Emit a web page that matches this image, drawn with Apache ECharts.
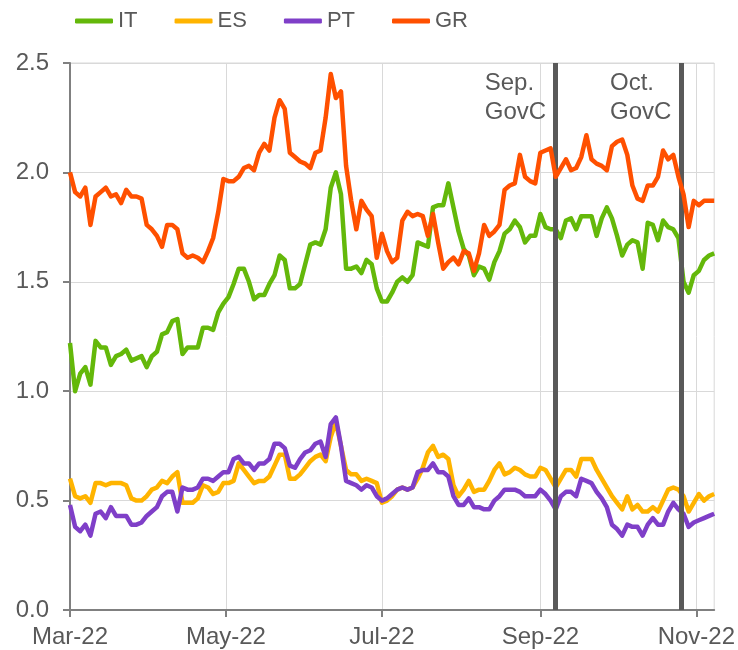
<!DOCTYPE html>
<html>
<head>
<meta charset="utf-8">
<script src="https://cdn.jsdelivr.net/npm/echarts@6/dist/echarts.min.js"></script>
<style>
  html, body { margin: 0; padding: 0; background: #fff; }
  #chart { width: 738px; height: 650px; }
</style>
</head>
<body>
<div id="chart"></div>
<script>
// every second calendar day, 2022
const days = [
  '03-01','03-03','03-05','03-07','03-09','03-11','03-13','03-15','03-17','03-19','03-21','03-23','03-25','03-27','03-29','03-31',
  '04-02','04-04','04-06','04-08','04-10','04-12','04-14','04-16','04-18','04-20','04-22','04-24','04-26','04-28','04-30',
  '05-02','05-04','05-06','05-08','05-10','05-12','05-14','05-16','05-18','05-20','05-22','05-24','05-26','05-28','05-30',
  '06-01','06-03','06-05','06-07','06-09','06-11','06-13','06-15','06-17','06-19','06-21','06-23','06-25','06-27','06-29',
  '07-01','07-03','07-05','07-07','07-09','07-11','07-13','07-15','07-17','07-19','07-21','07-23','07-25','07-27','07-29','07-31',
  '08-02','08-04','08-06','08-08','08-10','08-12','08-14','08-16','08-18','08-20','08-22','08-24','08-26','08-28','08-30',
  '09-01','09-03','09-05','09-07','09-09','09-11','09-13','09-15','09-17','09-19','09-21','09-23','09-25','09-27','09-29',
  '10-01','10-03','10-05','10-07','10-09','10-11','10-13','10-15','10-17','10-19','10-21','10-23','10-25','10-27','10-29','10-31',
  '11-02','11-04','11-06','11-08'
]

const IT = [
  1.22,1.00,1.08,1.11,1.03,1.23,1.20,1.20,1.12,1.16,
  1.17,1.19,1.14,1.15,1.16,1.11,1.16,1.18,1.26,1.27,
  1.32,1.33,1.17,1.20,1.20,1.20,1.29,1.29,1.28,1.36,
  1.40,1.43,1.49,1.56,1.56,1.50,1.42,1.44,1.44,1.49,
  1.53,1.62,1.60,1.47,1.47,1.49,1.58,1.67,1.68,1.67,
  1.74,1.93,2.00,1.90,1.56,1.56,1.57,1.54,1.60,1.58,
  1.47,1.41,1.41,1.45,1.50,1.52,1.50,1.53,1.68,1.67,
  1.66,1.84,1.85,1.85,1.95,1.84,1.73,1.65,1.62,1.53,
  1.57,1.56,1.51,1.59,1.64,1.72,1.74,1.78,1.75,1.68,
  1.71,1.71,1.81,1.75,1.74,1.74,1.70,1.78,1.79,1.74,
  1.80,1.80,1.80,1.71,1.79,1.84,1.79,1.71,1.62,1.67,
  1.69,1.68,1.56,1.77,1.76,1.69,1.78,1.75,1.74,1.70,
  1.50,1.45,1.53,1.55,1.60,1.62,1.63
]
const ES = [
  0.60,0.52,0.51,0.52,0.49,0.58,0.58,0.57,0.58,0.58,
  0.58,0.57,0.51,0.50,0.50,0.52,0.55,0.56,0.59,0.58,
  0.61,0.63,0.49,0.49,0.49,0.51,0.57,0.56,0.53,0.54,
  0.58,0.58,0.59,0.67,0.64,0.61,0.58,0.59,0.59,0.61,
  0.66,0.71,0.71,0.60,0.60,0.62,0.65,0.68,0.70,0.71,
  0.68,0.79,0.86,0.75,0.64,0.62,0.62,0.59,0.60,0.59,
  0.58,0.49,0.50,0.52,0.55,0.56,0.55,0.56,0.60,0.65,
  0.72,0.75,0.70,0.71,0.69,0.57,0.52,0.55,0.59,0.54,
  0.55,0.55,0.59,0.64,0.67,0.62,0.63,0.65,0.64,0.62,
  0.61,0.61,0.65,0.64,0.60,0.56,0.60,0.64,0.64,0.61,
  0.69,0.69,0.69,0.64,0.60,0.56,0.52,0.49,0.46,0.52,
  0.46,0.48,0.45,0.45,0.47,0.45,0.50,0.55,0.56,0.55,
  0.52,0.45,0.49,0.53,0.50,0.52,0.53
]
const PT = [
  0.48,0.38,0.36,0.39,0.34,0.44,0.45,0.42,0.47,0.43,
  0.43,0.43,0.39,0.39,0.40,0.43,0.45,0.47,0.52,0.54,
  0.54,0.45,0.56,0.55,0.55,0.56,0.60,0.60,0.59,0.61,
  0.63,0.63,0.69,0.70,0.67,0.67,0.64,0.67,0.67,0.69,
  0.76,0.76,0.74,0.66,0.65,0.69,0.72,0.73,0.76,0.77,
  0.70,0.85,0.88,0.75,0.59,0.58,0.57,0.55,0.57,0.56,
  0.52,0.50,0.51,0.53,0.55,0.56,0.55,0.56,0.63,0.64,
  0.64,0.67,0.63,0.63,0.61,0.52,0.48,0.48,0.51,0.47,
  0.47,0.46,0.46,0.50,0.52,0.55,0.55,0.55,0.54,0.52,
  0.52,0.52,0.55,0.53,0.50,0.46,0.52,0.54,0.54,0.52,
  0.60,0.59,0.58,0.54,0.51,0.47,0.39,0.37,0.34,0.39,
  0.38,0.38,0.34,0.39,0.42,0.39,0.39,0.45,0.49,0.46,
  0.44,0.38,0.40,0.41,0.42,0.43,0.44
]
const GR = [
  2.00,1.91,1.89,1.93,1.76,1.89,1.91,1.93,1.89,1.90,
  1.86,1.92,1.89,1.89,1.88,1.76,1.74,1.71,1.66,1.76,
  1.76,1.74,1.63,1.61,1.62,1.61,1.59,1.64,1.70,1.82,
  1.97,1.96,1.96,1.98,2.02,2.03,2.01,2.09,2.13,2.10,
  2.25,2.33,2.29,2.09,2.07,2.05,2.04,2.02,2.09,2.10,
  2.25,2.45,2.34,2.37,2.03,1.87,1.74,1.87,1.83,1.80,
  1.61,1.72,1.64,1.59,1.61,1.78,1.82,1.80,1.81,1.80,
  1.71,1.81,1.68,1.56,1.59,1.61,1.58,1.64,1.63,1.55,
  1.63,1.76,1.71,1.73,1.76,1.92,1.94,1.95,2.08,1.98,
  1.96,1.95,2.09,2.10,2.11,1.98,2.02,2.06,2.01,2.02,
  2.07,2.17,2.06,2.04,2.03,2.01,2.12,2.14,2.15,2.08,
  1.94,1.88,1.87,1.94,1.94,1.98,2.10,2.06,2.08,1.98,
  1.90,1.75,1.87,1.85,1.87,1.87,1.87
]

const names = ['IT', 'ES', 'PT', 'GR']
const colors = ['#64b80a', '#ffb400', '#7f3fc8', '#ff5000']
const govc = [['2022-09-07', 'Sep.\nGovC'], ['2022-10-26', 'Oct.\nGovC']]
const tickDays = ['2022-03-01', '2022-05-01', '2022-07-01', '2022-09-01', '2022-11-01']
const monthNames = ['Jan','Feb','Mar','Apr','May','Jun','Jul','Aug','Sep','Oct','Nov','Dec']

const toTime = s => {
  const p = s.split('-').map(Number)
  return Date.UTC(p[0], p[1] - 1, p[2])
}
const times = days.map(d => toTime('2022-' + d))
const ticks = tickDays.map(toTime)
const FONT = '"Liberation Sans", Arial, sans-serif'
const TXT = '#595959'

const chart = echarts.init(document.getElementById('chart'))

const series = [IT, ES, PT, GR].map((vals, i) => ({
  name: names[i],
  type: 'line',
  data: vals.map((v, j) => [times[j], v]),
  showSymbol: false,
  symbol: 'none',
  lineStyle: { width: 4.5, color: colors[i], join: 'round' },
  itemStyle: { color: colors[i] },
  z: 2 + i
}))
series[3].markLine = {
  silent: true,
  symbol: ['none', 'none'],
  label: { show: false },
  lineStyle: { color: '#595959', width: 5, type: 'solid' },
  data: govc.map(g => ({ xAxis: toTime(g[0]) }))
}

const option = {
  animation: false,
  backgroundColor: '#fff',
  legend: {
    left: 70,
    top: 5,
    itemWidth: 38,
    itemHeight: 5,
    itemGap: 37,
    icon: 'roundRect',
    data: names,
    textStyle: { color: TXT, fontSize: 22, fontFamily: FONT }
  },
  grid: {
    left: 70, right: 23, top: 63, bottom: 40,
    show: true, borderColor: '#d9d9d9', borderWidth: 1
  },
  xAxis: {
    type: 'value',
    min: toTime('2022-03-01'),
    max: toTime('2022-11-08'),
    axisLine: { lineStyle: { color: '#808080', width: 2 } },
    axisTick: { show: true, length: 7, lineStyle: { color: '#808080', width: 2 }, customValues: ticks },
    axisLabel: {
      customValues: ticks,
      color: TXT, fontSize: 24, fontFamily: FONT, margin: 15,
      formatter: v => monthNames[new Date(v).getUTCMonth()] + '-22'
    },
    splitLine: { show: true, lineStyle: { color: '#d9d9d9', width: 1 } }
  },
  yAxis: {
    type: 'value',
    min: 0, max: 2.5, interval: 0.5,
    axisLine: { show: true, lineStyle: { color: '#808080', width: 2 } },
    axisTick: { show: true, length: 7, lineStyle: { color: '#808080', width: 2 } },
    axisLabel: { color: TXT, fontSize: 24, fontFamily: FONT, margin: 21, formatter: v => v.toFixed(1) },
    splitLine: { lineStyle: { color: '#d9d9d9', width: 1 } }
  },
  series: series
}
chart.setOption(option)

// GovC notes placed left of each meeting line
const notes = govc.map(g => {
  const x = chart.convertToPixel({ xAxisIndex: 0 }, toTime(g[0]))
  return {
    type: 'text',
    x: x - 71,
    y: 69,
    z: 10,
    style: { text: g[1], font: '24px ' + FONT, fill: TXT, lineHeight: 29, textAlign: 'left', textVerticalAlign: 'top' }
  }
})
chart.setOption({ graphic: notes })
</script>
</body>
</html>
